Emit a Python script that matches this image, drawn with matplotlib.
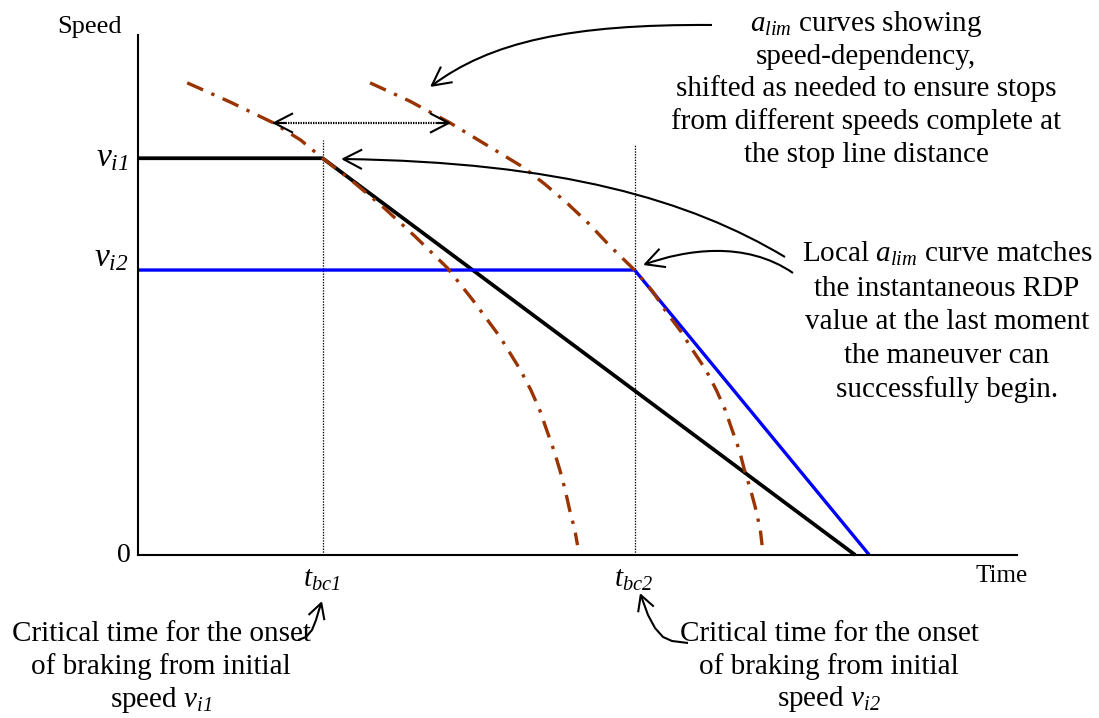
import matplotlib
matplotlib.use('Agg')
import matplotlib.pyplot as plt
from matplotlib.patches import FancyArrowPatch, ArrowStyle
from matplotlib.path import Path
from matplotlib.lines import Line2D

plt.rcParams['font.family'] = ['Liberation Serif', 'DejaVu Serif']
plt.rcParams['mathtext.fontset'] = 'custom'
plt.rcParams['mathtext.rm'] = 'Liberation Serif:italic'
plt.rcParams['mathtext.it'] = 'Liberation Serif:italic'
plt.rcParams['mathtext.bf'] = 'Liberation Serif:bold'
plt.rcParams['lines.scale_dashes'] = False

# ---------------- data (arbitrary time / speed units) ----------------
v_i1 = 7.63
v_i2 = 5.48
t_bc1 = 2.10
t_bc2 = 5.65
t_stop1 = 8.16
t_stop2 = 8.32
guide_top1 = 7.98
guide_top2 = 7.88

alim1_t = [0.56, 1.05, 1.54, 1.85, 2.10, 2.41, 2.79, 3.15, 3.52, 3.81, 4.12,
           4.35, 4.47, 4.57, 4.65, 4.73, 4.80, 4.86, 4.91, 4.97, 5.00]
alim1_v = [9.08, 8.71, 8.31, 7.98, 7.63, 7.23, 6.69, 6.13, 5.52, 4.90, 4.19,
           3.56, 3.17, 2.79, 2.40, 2.02, 1.63, 1.25, 0.87, 0.48, 0.19]
alim2_t = [2.64, 3.09, 3.55, 3.97, 4.38, 4.63, 4.88, 5.13, 5.37, 5.65, 5.85,
           6.02, 6.18, 6.31, 6.46, 6.58, 6.68, 6.76, 6.84, 6.90, 6.97, 7.03,
           7.08, 7.10]
alim2_v = [9.08, 8.73, 8.31, 7.88, 7.46, 7.13, 6.77, 6.37, 5.94, 5.48, 5.08,
           4.65, 4.29, 3.94, 3.56, 3.17, 2.79, 2.40, 2.02, 1.63, 1.25, 0.87,
           0.48, 0.19]

y_labels = [r'$v_{i1}$', r'$v_{i2}$']
x_labels = [r'$t_{bc1}$', r'$t_{bc2}$']

top_note = [r'$a_{lim}$ curves showing', 'speed-dependency,',
            'shifted as needed to ensure stops',
            'from different speeds complete at', 'the stop line distance']
right_note = [r'Local $a_{lim}$ curve matches', 'the instantaneous RDP',
              'value at the last moment', 'the maneuver can',
              'successfully begin.']
left_note = ['Critical time for the onset', 'of braking from initial',
             r'speed $v_{i1}$']
right_bottom_note = ['Critical time for the onset', 'of braking from initial',
                     r'speed $v_{i2}$']

BROWN = '#993300'
BLUE = '#0000FF'

W, H = 1099, 718
fig = plt.figure(figsize=(W / 100, H / 100), dpi=100)
fig.patch.set_facecolor('white')


def F(px, py):
    return (px / W, 1 - py / H)


ax = fig.add_axes([138 / W, 1 - 555 / H, 879 / W, 520 / H])
ax.set_xlim(0, 10)
ax.set_ylim(0, 10)
for s in ['top', 'right']:
    ax.spines[s].set_visible(False)
for s in ['left', 'bottom']:
    ax.spines[s].set_linewidth(1.5)
ax.set_xticks([])
ax.set_yticks([])
ax.patch.set_alpha(0)

# guide lines
ax.plot([t_bc1, t_bc1], [0, guide_top1], color='k', lw=0.9, ls=(0, (1, 1)), clip_on=False)
ax.plot([t_bc2, t_bc2], [0, guide_top2], color='k', lw=0.9, ls=(0, (1, 1)), clip_on=False)

# speed profiles
ax.plot([0, t_bc1, t_stop1], [v_i1, v_i1, 0], color='k', lw=2.7, clip_on=False,
        solid_capstyle='butt')
ax.plot([0, t_bc2, t_stop2], [v_i2, v_i2, 0], color=BLUE, lw=2.4, clip_on=False,
        solid_capstyle='butt')

# a_lim curves
for tt, vv in [(alim1_t, alim1_v), (alim2_t, alim2_v)]:
    ax.plot(tt, vv, color=BROWN, lw=2.4, dashes=(12.5, 6.5, 2.4, 6.5),
            dash_capstyle='butt', clip_on=False)

# axis labels
fig.text(*F(122, 33), 'Speed', ha='right', va='baseline', fontsize=19)
fig.text(*F(975, 582), 'Time', ha='left', va='baseline', fontsize=18)
fig.text(*F(131, 562), '0', ha='right', va='baseline', fontsize=20)
fig.text(*F(128, 166), y_labels[0], ha='right', va='baseline', fontsize=24)
fig.text(*F(128, 266), y_labels[1], ha='right', va='baseline', fontsize=24)
fig.text(*F(322, 587), x_labels[0], ha='center', va='baseline', fontsize=21)
fig.text(*F(634, 587), x_labels[1], ha='center', va='baseline', fontsize=21)

# notes
for line, yb in zip(top_note, [31, 64, 96, 129, 162]):
    fig.text(*F(866, yb), line, ha='center', va='baseline', fontsize=21)
for line, yb in zip(right_note, [262, 296, 329, 363, 397]):
    fig.text(*F(947, yb), line, ha='center', va='baseline', fontsize=21)
for line, yb in zip(left_note, [641, 674, 707]):
    fig.text(*F(161, yb), line, ha='center', va='baseline', fontsize=21)
for line, yb in zip(right_bottom_note, [641, 674, 706]):
    fig.text(*F(829, yb), line, ha='center', va='baseline', fontsize=21)


def arrow(pts, hl=13.5, hw=7.0, lw=1.5, ls='-', bezier=False):
    verts = [F(x, y) for x, y in pts]
    if bezier:
        codes = [Path.MOVETO] + [Path.CURVE4] * 3
    else:
        codes = [Path.MOVETO] + [Path.LINETO] * (len(verts) - 1)
    p = FancyArrowPatch(path=Path(verts, codes),
                        arrowstyle=ArrowStyle('->', head_length=hl, head_width=hw),
                        mutation_scale=1, lw=lw, color='k', ls=ls,
                        transform=fig.transFigure, capstyle='butt', joinstyle='round')
    fig.add_artist(p)


# top note arrow
arrow([(712, 25), (570, 24), (490, 42), (430, 87)], bezier=True)
# shift double arrow (dotted shaft, solid heads)
fig.add_artist(Line2D([F(273, 123)[0], F(450, 123)[0]], [F(273, 123)[1], F(450, 123)[1]],
                      transform=fig.transFigure, color='k', lw=1.6, ls=(0, (1, 0.8))))
arrow([(286, 123), (272, 123)])
arrow([(437, 123), (451, 123)])
# right note arrows
arrow([(785, 257), (690, 200), (560, 162), (341, 159)], bezier=True)
arrow([(793, 273), (745, 240), (685, 250), (643, 265)], bezier=True)
# bottom arrows
arrow([(298, 640), (306, 637), (312, 630), (316, 620), (319, 610), (322, 601)],
      hl=11, hw=6)
arrow([(688, 643), (672, 641), (663, 637), (655, 628), (648, 615), (644, 604),
       (640, 593)], hl=11, hw=6)

fig.savefig('out.png', dpi=100, facecolor='white')
